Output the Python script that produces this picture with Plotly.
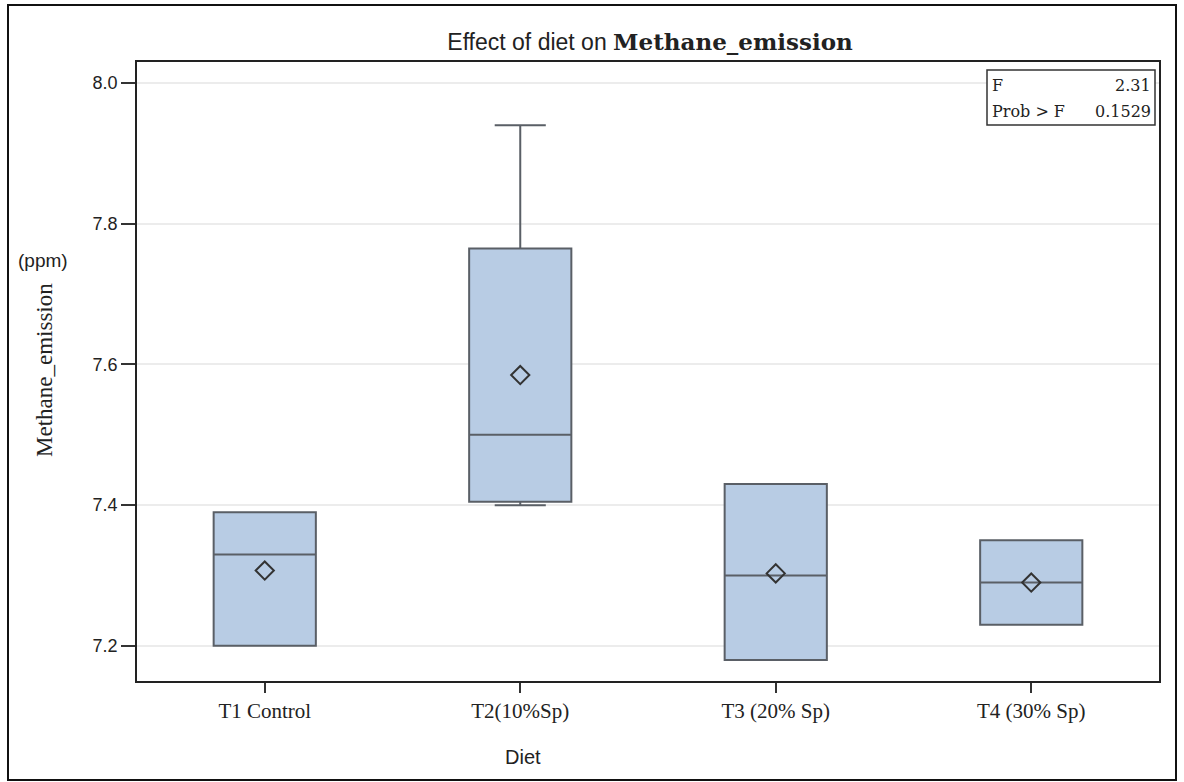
import plotly.graph_objects as go

categories = ["T1 Control", "T2(10%Sp)", "T3 (20% Sp)", "T4 (30% Sp)"]
min_vals = [7.20, 7.40, 7.18, 7.23]
q1_vals = [7.20, 7.405, 7.18, 7.23]
median_vals = [7.33, 7.50, 7.30, 7.29]
q3_vals = [7.39, 7.765, 7.43, 7.35]
max_vals = [7.39, 7.94, 7.43, 7.35]
mean_vals = [7.307, 7.585, 7.303, 7.29]
y_ticks = [7.2, 7.4, 7.6, 7.8, 8.0]
stat_labels = ["F", "Prob > F"]
stat_values = ["2.31", "0.1529"]

SANS = "Liberation Sans, Arial, sans-serif"
SERIF = "Liberation Serif, Times New Roman, serif"
WSERIF = "DejaVu Serif, serif"

fig = go.Figure()
fig.add_trace(go.Box(
    x=categories, q1=q1_vals, median=median_vals, q3=q3_vals,
    lowerfence=min_vals, upperfence=max_vals,
    fillcolor="#b8cce4", line=dict(color="#5a5f66", width=2),
    whiskerwidth=0.5, width=0.4, boxpoints=False, showlegend=False,
    hoverinfo="skip",
))
fig.add_trace(go.Scatter(
    x=categories, y=mean_vals, mode="markers",
    marker=dict(symbol="diamond-open", size=14, color="#333333",
                line=dict(width=2, color="#333333")),
    showlegend=False, hoverinfo="skip",
))

fig.update_layout(
    width=1184, height=782,
    margin=dict(l=137, r=25, t=62, b=101),
    paper_bgcolor="white", plot_bgcolor="white",
    title=dict(
        text="Effect of diet on <span style='font-family:DejaVu Serif, serif; font-size:23px'><b>Methane_emission</b></span>",
        x=650 / 1184, xanchor="center", y=1 - 42 / 782, yanchor="middle",
        font=dict(family=SANS, size=23, color="#222222"),
    ),
    xaxis=dict(
        type="category", range=[-0.5, 3.5],
        showline=True, linecolor="#222222", linewidth=1.5, mirror=True,
        ticks="outside", ticklen=10, tickcolor="#333333", tickwidth=1.5,
        tickfont=dict(family=SERIF, size=21, color="#222222"),
        showgrid=False,
    ),
    yaxis=dict(
        range=[7.15, 8.03], tickvals=y_ticks, ticktext=[f"{v:.1f}" for v in y_ticks],
        showline=True, linecolor="#222222", linewidth=1.5, mirror=True,
        ticks="outside", ticklen=14, tickcolor="#333333", tickwidth=1.5,
        tickfont=dict(family=SANS, size=18, color="#222222"),
        showgrid=True, gridcolor="#ececec", gridwidth=1.5, zeroline=False,
    ),
)

# Outer frame
fig.add_shape(type="rect", xref="paper", yref="paper",
              x0=(8 - 137) / 1022, x1=(1176 - 137) / 1022,
              y0=(681 - 780) / 619, y1=(681 - 5) / 619,
              line=dict(color="#111111", width=2), fillcolor="rgba(0,0,0,0)")

# Stats inset box
fig.add_shape(type="rect", xref="paper", yref="paper",
              x0=(987 - 137) / 1022, x1=(1155 - 137) / 1022,
              y0=(681 - 125) / 619, y1=(681 - 70) / 619,
              line=dict(color="#333333", width=1.5), fillcolor="white")
for i, (lab, val) in enumerate(zip(stat_labels, stat_values)):
    ypix = 85 + i * 26
    fig.add_annotation(xref="paper", yref="paper", x=(990 - 137) / 1022,
                       y=(681 - ypix) / 619, text=lab, showarrow=False,
                       xanchor="left", yanchor="middle",
                       font=dict(family=WSERIF, size=16, color="#222222"))
    fig.add_annotation(xref="paper", yref="paper", x=(1153 - 137) / 1022,
                       y=(681 - ypix) / 619, text=val, showarrow=False,
                       xanchor="right", yanchor="middle",
                       font=dict(family=WSERIF, size=16, color="#222222"))

# Axis titles
fig.add_annotation(xref="paper", yref="paper", x=(44 - 137) / 1022,
                   y=(681 - 370) / 619, text="Methane_emission", textangle=-90,
                   showarrow=False, xanchor="center", yanchor="middle",
                   font=dict(family=SERIF, size=23, color="#222222"))
fig.add_annotation(xref="paper", yref="paper", x=(43 - 137) / 1022,
                   y=(681 - 260) / 619, text="(ppm)", showarrow=False,
                   xanchor="center", yanchor="middle",
                   font=dict(family=SANS, size=19, color="#222222"))
fig.add_annotation(xref="paper", yref="paper", x=(523 - 137) / 1022,
                   y=(681 - 757) / 619, text="Diet", showarrow=False,
                   xanchor="center", yanchor="middle",
                   font=dict(family=SANS, size=20, color="#222222"))

fig.write_html("out.html")
